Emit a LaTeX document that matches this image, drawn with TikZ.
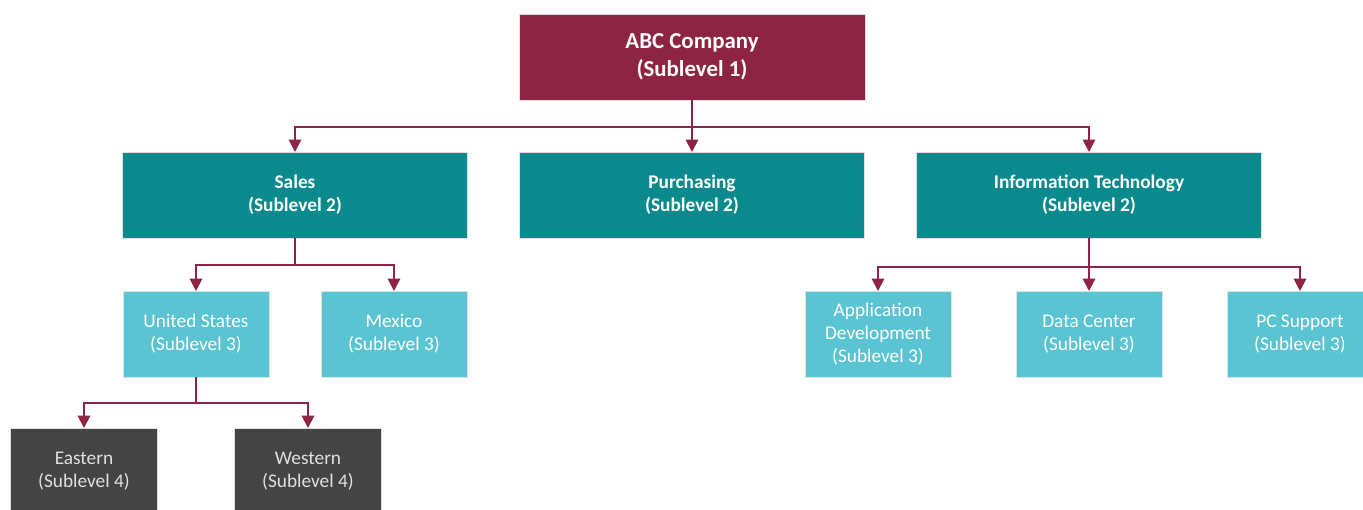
\documentclass[tikz,border=0pt]{standalone}
\usepackage{fontspec}
\setmainfont{Carlito}
\usetikzlibrary{arrows.meta,positioning}

\definecolor{abcred}{RGB}{142,36,67}
\definecolor{deptteal}{RGB}{10,138,140}
\definecolor{unitcyan}{RGB}{90,196,210}
\definecolor{regiongray}{RGB}{68,68,68}

\begin{document}
\begin{tikzpicture}[x=0.02cm, y=-0.02cm,
    box/.style={rectangle, draw=black!12, line width=0.5pt, inner sep=2pt, outer sep=0pt,
        align=center, minimum height=1.72cm, text=white},
    company/.style={box, fill=abcred, minimum width=6.92cm, font=\fontsize{13}{16}\selectfont\bfseries},
    dept/.style={box, fill=deptteal, minimum width=6.9cm, font=\fontsize{11}{13}\selectfont\bfseries},
    unit/.style={box, fill=unitcyan, minimum width=2.92cm, font=\fontsize{11}{13}\selectfont},
    region/.style={box, fill=regiongray, minimum width=2.94cm, text=black!12, font=\fontsize{11}{13}\selectfont},
    link/.style={draw=abcred, line width=1.1pt},
    arrow/.style={link, -{Triangle[width=7pt, length=7pt]}}]

    \clip (0,0) rectangle (1363,510);

    % Sublevel 1
    \node [company] (abc) at (692,57) {ABC Company\\(Sublevel 1)};

    % Sublevel 2
    \node [dept] (sales) at (295,195) {Sales\\(Sublevel 2)};
    \node [dept] (purchasing) at (692,195) {Purchasing\\(Sublevel 2)};
    \node [dept] (it) at (1089,195) {Information Technology\\(Sublevel 2)};

    % Sublevel 3
    \node [unit] (us) at (196,334) {United States\\(Sublevel 3)};
    \node [unit] (mexico) at (394,334) {Mexico\\(Sublevel 3)};
    \node [unit] (appdev) at (878,334) {Application\\Development\\(Sublevel 3)};
    \node [unit] (datacenter) at (1089,334) {Data Center\\(Sublevel 3)};
    \node [unit] (pcsupport) at (1300,334) {PC Support\\(Sublevel 3)};

    % Sublevel 4
    \node [region] (eastern) at (84,471) {Eastern\\(Sublevel 4)};
    \node [region] (western) at (308,471) {Western\\(Sublevel 4)};

    % Bus points
    \coordinate (abc bus) at (692,127);
    \coordinate (sales bus) at (295,265);
    \coordinate (it bus) at (1089,267);
    \coordinate (us bus) at (196,403);

    % Connections - Sublevel 1 to 2
    \draw [arrow] (abc.south) -- (purchasing.north);
    \draw [arrow] (abc bus) -| (sales.north);
    \draw [arrow] (abc bus) -| (it.north);

    % Connections - Sales
    \draw [link] (sales.south) -- (sales bus);
    \draw [arrow] (sales bus) -| (us.north);
    \draw [arrow] (sales bus) -| (mexico.north);

    % Connections - Information Technology
    \draw [arrow] (it.south) -- (datacenter.north);
    \draw [arrow] (it bus) -| (appdev.north);
    \draw [arrow] (it bus) -| (pcsupport.north);

    % Connections - United States
    \draw [link] (us.south) -- (us bus);
    \draw [arrow] (us bus) -| (eastern.north);
    \draw [arrow] (us bus) -| (western.north);

\end{tikzpicture}
\end{document}
